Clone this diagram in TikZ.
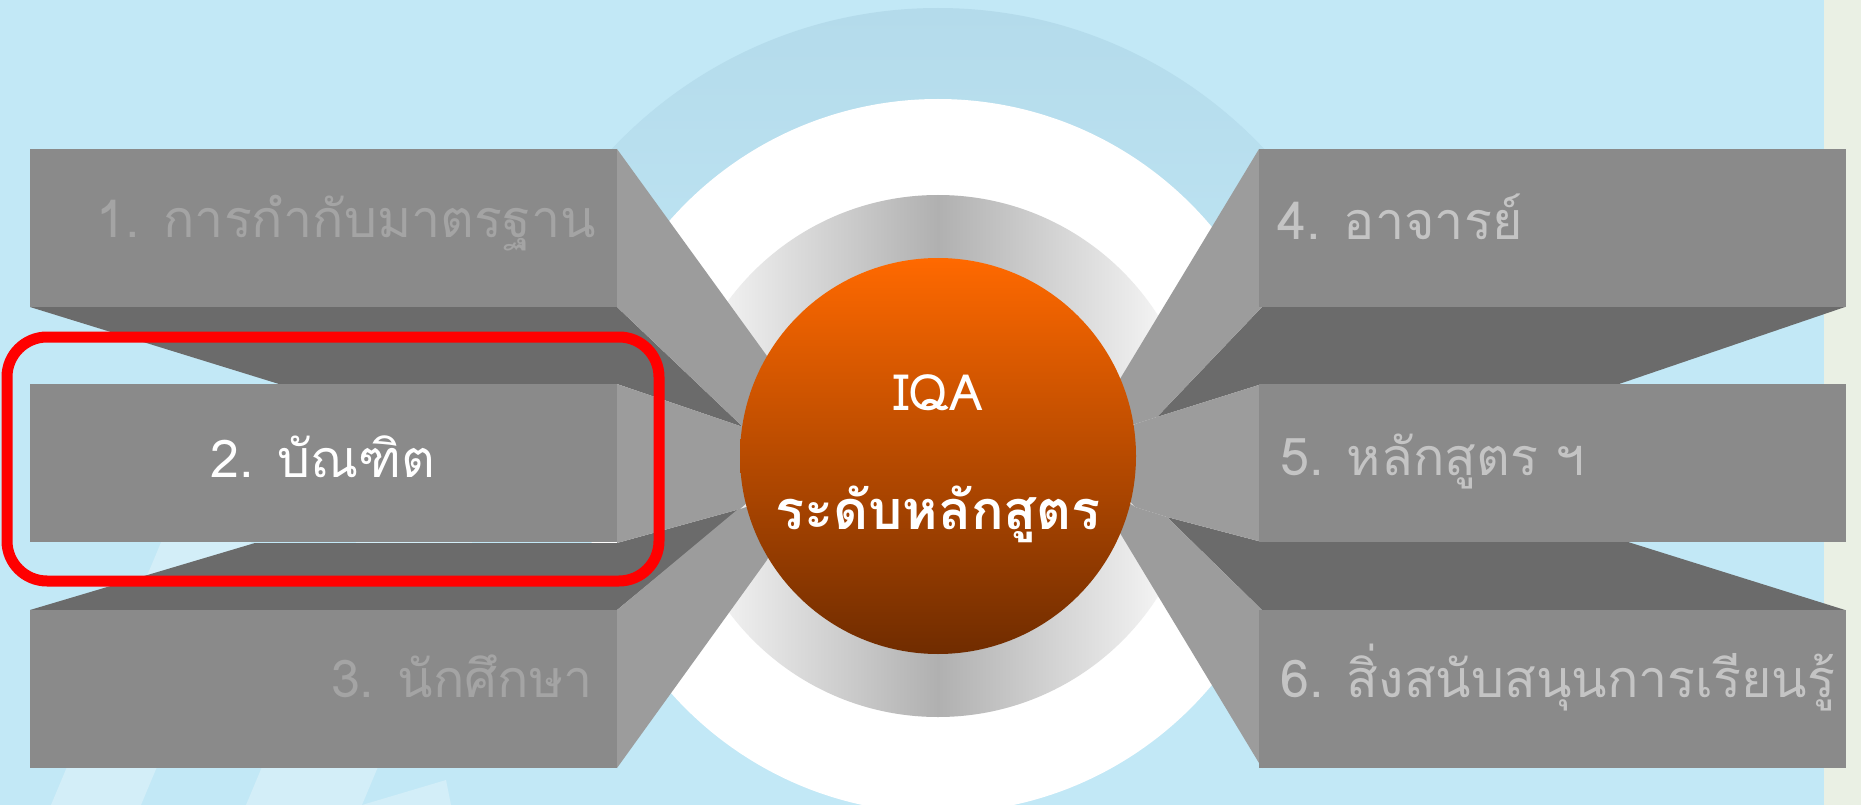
\documentclass[tikz,border=0pt]{standalone}
\usepackage{fontspec}
\newfontfamily\thai[Script=Thai]{Loma}
\definecolor{bgblue}{HTML}{C2E8F6}
\definecolor{stripc}{HTML}{EAF0E4}
\definecolor{lightstripe}{HTML}{D3EEF8}
\definecolor{bigtop}{HTML}{B4DBEB}
\definecolor{facec}{HTML}{8A8A8A}
\definecolor{sidec}{HTML}{9C9C9C}
\definecolor{darkc}{HTML}{6B6B6B}
\definecolor{ringgray}{HTML}{B0B0B0}
\definecolor{whitemid}{HTML}{D6D6D6}
\definecolor{orTop}{HTML}{FF6900}
\definecolor{orMid}{HTML}{C44E00}
\definecolor{orBot}{HTML}{702C00}
\definecolor{txtA}{HTML}{A4A4A4}
\definecolor{txtB}{HTML}{C4C4C4}
\begin{document}
\begin{tikzpicture}[x=1pt,y=-1pt,
  face/.style={rectangle, fill=facec, draw=none, inner sep=0pt, minimum width=587pt, minimum height=158pt},
  sidepart/.style={fill=sidec},
  darkpart/.style={fill=darkc},
  lbl/.style={font=\thai\fontsize{52}{56}\selectfont, inner sep=0pt},
  ctr/.style={inner sep=0pt, text=white}]
\useasboundingbox (0,0) rectangle (1861,805);
% background
\fill[bgblue] (0,0) rectangle (1824,805);
\fill[stripc] (1824,0) rectangle (1861,805);
% stripes bottom-left
\begin{scope}
\clip (0,500) rectangle (700,805);
\fill[lightstripe] (51,805) -- (141,805) -- (252,540) -- (162,540) -- cycle;
\fill[lightstripe] (246,805) -- (362,805) -- (473,540) -- (357,540) -- cycle;
\fill[lightstripe] (362,805) -- (446,780) -- (451,805) -- cycle;
\end{scope}
% rings
\begin{scope}
\clip (0,0) rectangle (1861,456);
\clip (938,456) circle[radius=448];
\shade[top color=bigtop, bottom color=bgblue] (490,8) rectangle (1386,456);
\end{scope}
\shade[top color=white, middle color=whitemid, bottom color=white] (938,456) circle[radius=357];
\shade[left color=white, right color=white, middle color=ringgray] (938,456) circle[radius=261];
% left boxes
\fill[darkpart] (30,307) -- (617,307) -- (743,427) -- (617,384) -- (279,384) -- cycle;
\fill[darkpart] (30,610) -- (255,543) -- (617,543) -- (740,509) -- (617,610) -- cycle;
\fill[sidepart] (617,149) -- (767,356) -- (800,420) -- (743,427) -- (617,307) -- cycle;
\fill[sidepart] (617,384) -- (743,427) -- (800,456) -- (740,509) -- (617,543) -- cycle;
\fill[sidepart] (617,610) -- (737,510) -- (800,490) -- (767,560) -- (617,768) -- cycle;
\node[face] (b1) at (323.5,228) {};
\node[face] (b2) at (323.5,463) {};
\node[face] (b3) at (323.5,689) {};
% right boxes
\fill[darkpart] (1262,307) -- (1845,307) -- (1619,384) -- (1262,384) -- (1157,417) -- cycle;
\fill[darkpart] (1262,542) -- (1628,542) -- (1845,610) -- (1262,610) -- (1167,517) -- cycle;
\fill[sidepart] (1259,149) -- (1120,379) -- (1090,420) -- (1135,424) -- (1157,417) -- (1262,307) -- cycle;
\fill[sidepart] (1262,384) -- (1157,417) -- (1135,424) -- (1090,456) -- (1135,507) -- (1167,517) -- (1262,542) -- cycle;
\fill[sidepart] (1262,610) -- (1167,517) -- (1135,507) -- (1095,480) -- (1120,533) -- (1262,768) -- cycle;
\node[face] (b4) at (1552.5,228) {};
\node[face] (b5) at (1552.5,463) {};
\node[face] (b6) at (1552.5,689) {};
% centre
\node[circle, minimum size=396pt, inner sep=0pt, draw=none, top color=orTop, middle color=orMid, bottom color=orBot] (iqa) at (938,456) {};
\node[ctr, font=\thai\fontsize{50}{54}\selectfont, anchor=base] (iqat) at (938,410) {IQA};
\node[ctr, font=\thai\bfseries\fontsize{54}{58}\selectfont, anchor=base] (lvl) at (938,529) {ระดับหลักสูตร};
% labels
\node[lbl, text=txtA, anchor=base east] (t1) at (596,237) {1. การกำกับมาตรฐาน};
\node[lbl, text=white, anchor=base] (t2) at (323,477) {2. บัณฑิต};
\node[lbl, text=txtA, anchor=base east] (t3) at (593,697) {3. นักศึกษา};
\node[lbl, text=txtB, anchor=base west] (t4) at (1277,240) {4. อาจารย์};
\node[lbl, text=txtB, anchor=base west] (t5) at (1280,475) {5. หลักสูตร ฯ};
\node[lbl, text=txtB, anchor=base west] (t6) at (1280,697) {6. สิ่งสนับสนุนการเรียนรู้};
% highlight
\node[draw=red, line width=11pt, rounded corners=40pt, minimum width=652pt, minimum height=244pt, inner sep=0pt] (hl) at (333,459) {};
\end{tikzpicture}
\end{document}
